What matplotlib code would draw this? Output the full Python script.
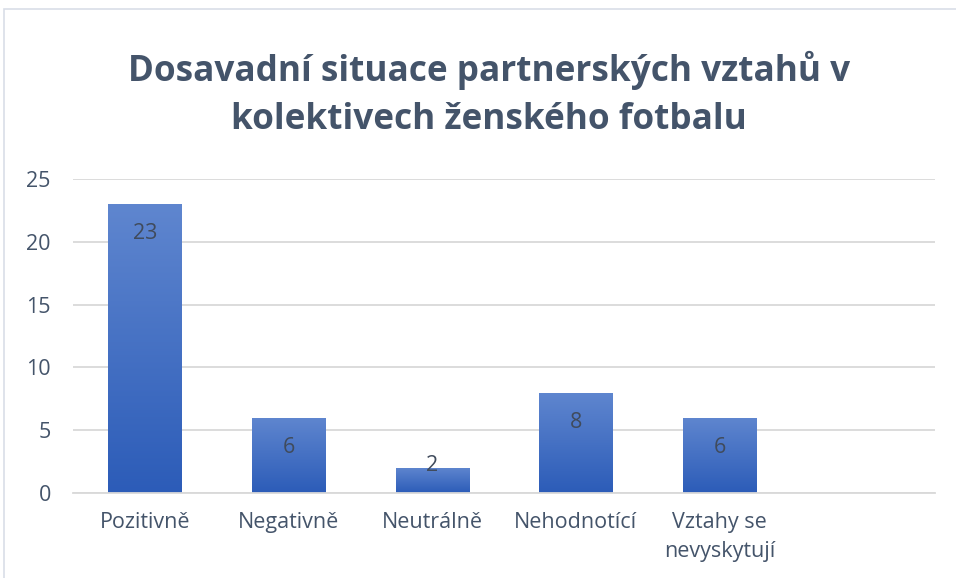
import numpy as np
import matplotlib.pyplot as plt
from matplotlib.patches import Rectangle

categories = ['Pozitivně', 'Negativně', 'Neutrálně', 'Nehodnotící', 'Vztahy se\nnevyskytují', '']
values = [23, 6, 2, 8, 6, 0]
yticks = [0, 5, 10, 15, 20, 25]

text_col = '#44546A'
grid_col = '#D9D9D9'

plt.rcParams['font.family'] = ['Open Sans', 'DejaVu Sans']

fig = plt.figure(figsize=(9.56, 5.78), dpi=100)
fig.patches.append(Rectangle((4 / 956, -0.05), 1.1, 1 - 9 / 578 + 0.05,
                             transform=fig.transFigure, fill=False,
                             edgecolor='#D9DEE8', linewidth=1.2))

ax = fig.add_axes([73 / 956, 1 - 493 / 578, (935 - 73) / 956, (493 - 179) / 578])
x = np.arange(len(categories))
shown = [v if c else np.nan for c, v in zip(categories, values)]
bars = ax.bar(x, shown, width=0.51, color='none', zorder=2)

# vertical gradient in each bar
grad = np.linspace(0, 1, 256).reshape(-1, 1)
cmap = plt.matplotlib.colors.LinearSegmentedColormap.from_list('g', ['#2C5CB8', '#5F86CF'])
for b, v in zip(bars, shown):
    if np.isnan(v) or v == 0:
        continue
    xl = b.get_x()
    im = ax.imshow(grad, cmap=cmap, origin='lower', aspect='auto',
                   extent=(xl, xl + b.get_width(), 0, v), zorder=2)
    im.set_clip_path(b)
    # label at inside end, but never lower than the bar base allows
    ly = max(v - 2.35, 2.15)
    ax.text(b.get_x() + b.get_width() / 2, ly, f'{int(v)}',
            ha='center', va='center', fontsize=15.5, color='#404B5C', zorder=3)

ax.set_xlim(-0.5, len(categories) - 0.5)
ax.set_ylim(0, 25)
ax.set_yticks(yticks)
ax.set_xticks(x)
ax.set_xticklabels(categories, linespacing=1.45)
ax.tick_params(axis='both', length=0, labelsize=15.5, colors=text_col)
ax.tick_params(axis='x', pad=14)
ax.tick_params(axis='y', pad=16)
ax.grid(axis='y', color=grid_col, linewidth=1.3, zorder=0)
ax.set_axisbelow(True)
for s in ['top', 'right', 'left']:
    ax.spines[s].set_visible(False)
ax.spines['bottom'].set_color(grid_col)
ax.spines['bottom'].set_linewidth(1.3)

fig.text(489 / 956, 1 - 94 / 578,
         'Dosavadní situace partnerských vztahů v\nkolektivech ženského fotbalu',
         ha='center', va='center', fontsize=25.3, fontweight='bold',
         color=text_col, linespacing=1.45)

fig.savefig('out.png', dpi=100)
